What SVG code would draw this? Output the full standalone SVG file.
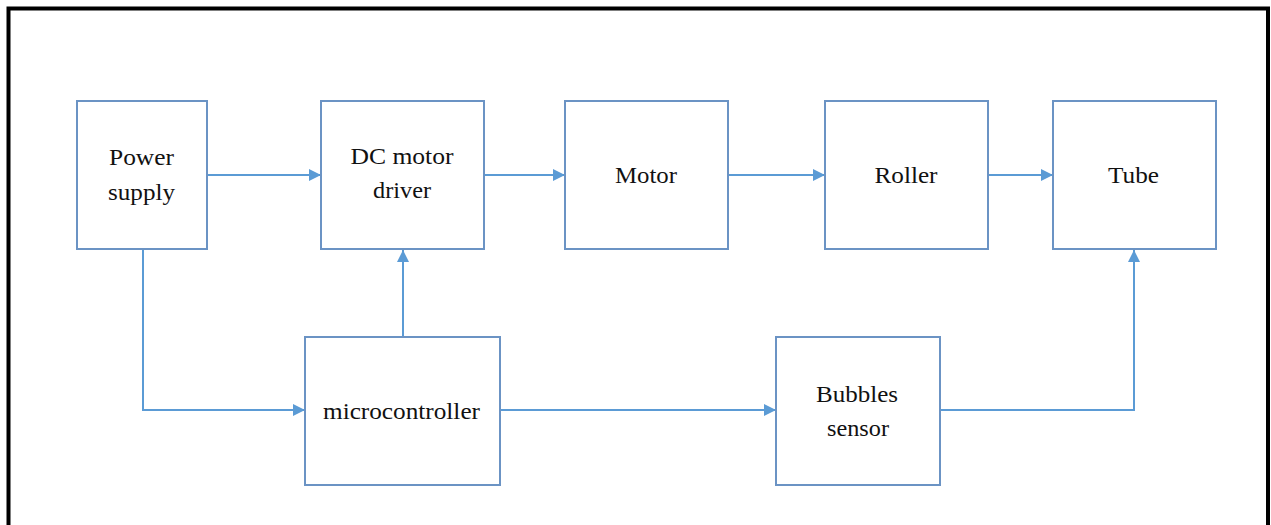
<svg xmlns="http://www.w3.org/2000/svg" width="1271" height="525" viewBox="0 0 1271 525">
<style>
.box{fill:#fff;stroke:#6b93c4;stroke-width:2}
.lbl{font-family:'Liberation Serif',Tinos,'Times New Roman',serif;font-size:23px;fill:#111;text-anchor:middle}
.con{fill:none;stroke:#5b9bd5;stroke-width:2}
</style>
<defs>
<marker id="ah" markerWidth="12" markerHeight="12" refX="12" refY="6" orient="auto" markerUnits="userSpaceOnUse">
<path d="M0,0 L12,6 L0,12 Z" fill="#5b9bd5"/>
</marker>
</defs>
<rect x="0" y="0" width="1271" height="525" fill="#fff"/>
<path d="M8.5,530 V8.5 H1268 V530" fill="none" stroke="#000" stroke-width="4"/>
<g id="connectors">
<path class="con" d="M207,175 H321" marker-end="url(#ah)"/>
<path class="con" d="M484,175 H565" marker-end="url(#ah)"/>
<path class="con" d="M728,175 H825" marker-end="url(#ah)"/>
<path class="con" d="M988,175 H1053" marker-end="url(#ah)"/>
<path class="con" d="M143,250 V410 H305" marker-end="url(#ah)"/>
<path class="con" d="M403,337 V250" marker-end="url(#ah)"/>
<path class="con" d="M500,410 H776" marker-end="url(#ah)"/>
<path class="con" d="M940,410 H1134 V250" marker-end="url(#ah)"/>
</g>
<g id="power-supply">
<rect class="box" x="77" y="101" width="130" height="148"/>
<text class="lbl" x="141.5" y="165" textLength="65" lengthAdjust="spacingAndGlyphs">Power</text>
<text class="lbl" x="141.5" y="200" textLength="67" lengthAdjust="spacingAndGlyphs">supply</text>
</g>
<g id="dc-motor-driver">
<rect class="box" x="321" y="101" width="163" height="148"/>
<text class="lbl" x="402" y="164" textLength="103" lengthAdjust="spacingAndGlyphs">DC motor</text>
<text class="lbl" x="402" y="198" textLength="58" lengthAdjust="spacingAndGlyphs">driver</text>
</g>
<g id="motor">
<rect class="box" x="565" y="101" width="163" height="148"/>
<text class="lbl" x="646" y="183" textLength="62" lengthAdjust="spacingAndGlyphs">Motor</text>
</g>
<g id="roller">
<rect class="box" x="825" y="101" width="163" height="148"/>
<text class="lbl" x="906" y="183" textLength="63" lengthAdjust="spacingAndGlyphs">Roller</text>
</g>
<g id="tube">
<rect class="box" x="1053" y="101" width="163" height="148"/>
<text class="lbl" x="1133.5" y="183" textLength="51" lengthAdjust="spacingAndGlyphs">Tube</text>
</g>
<g id="microcontroller">
<rect class="box" x="305" y="337" width="195" height="148"/>
<text class="lbl" x="401.5" y="419" textLength="157" lengthAdjust="spacingAndGlyphs">microcontroller</text>
</g>
<g id="bubbles-sensor">
<rect class="box" x="776" y="337" width="164" height="148"/>
<text class="lbl" x="857" y="402" textLength="82" lengthAdjust="spacingAndGlyphs">Bubbles</text>
<text class="lbl" x="858" y="436" textLength="62" lengthAdjust="spacingAndGlyphs">sensor</text>
</g>
</svg>
